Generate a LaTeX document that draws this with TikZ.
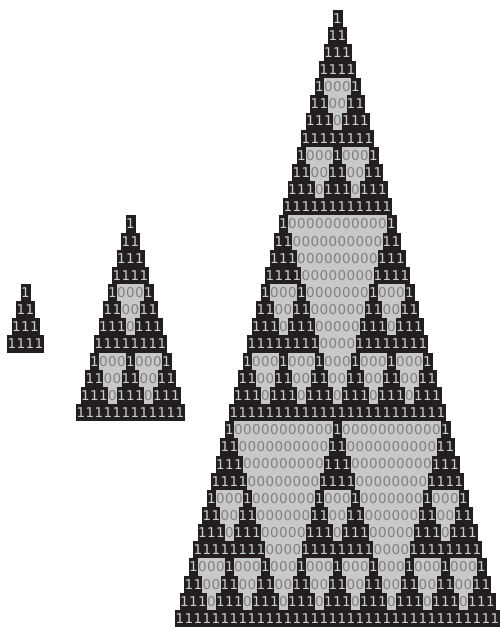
\documentclass[tikz,border=0pt]{standalone}
\usepackage{fontspec}
\setmainfont{DejaVu Sans}
\definecolor{ink}{RGB}{35,31,32}
\definecolor{zerobg}{RGB}{200,200,200}
\definecolor{onetxt}{RGB}{205,205,205}
\definecolor{zerotxt}{RGB}{128,128,128}
\tikzset{
  rowbg/.style={fill=ink, inner sep=0pt, minimum height=17.15pt, draw=none},
  digitfont/.style={font=\fontsize{13.5}{13.5}\selectfont},
  onecell/.style={digitfont, text=onetxt, inner sep=0pt},
  zerocell/.style={digitfont, fill=zerobg, text=zerotxt, inner sep=0pt,
                   minimum width=9.2pt, minimum height=17.3pt},
}
\newcommand\sierp[3]{%
  \pgfmathsetmacro\topy{318.3-#2*17.15/2}%
  \pgfmathtruncatemacro\lastrow{#2-1}%
  \foreach \r in {0,...,\lastrow}{%
    \pgfmathsetmacro\yy{\topy+(\r+0.5)*17.15}%
    \pgfmathsetmacro\ww{(\r+1)*9+1}%
    \node[rowbg, minimum width=\ww pt] (#1-row\r) at (#3,\yy) {};
    \foreach \j in {0,...,\r}{%
      \pgfmathtruncatemacro\isone{(mod(\r,4)>=mod(\j,4)) && (mod(floor(\r/4),3)>=mod(floor(\j/4),3))}%
      \pgfmathsetmacro\xx{#3+(\j-\r/2)*9}%
      \ifnum\isone=1
        \node[onecell] (#1-\r-\j) at (\xx,\yy) {1};
      \else
        \node[zerocell] (#1-\r-\j) at (\xx,\yy) {0};
      \fi
    }%
  }%
}
\begin{document}
\begin{tikzpicture}[x=1pt,y=-1pt]
\useasboundingbox (0,0) rectangle (499,627);
\sierp{S}{4}{25.5}
\sierp{M}{12}{130.5}
\sierp{L}{36}{337.5}
\end{tikzpicture}
\end{document}
